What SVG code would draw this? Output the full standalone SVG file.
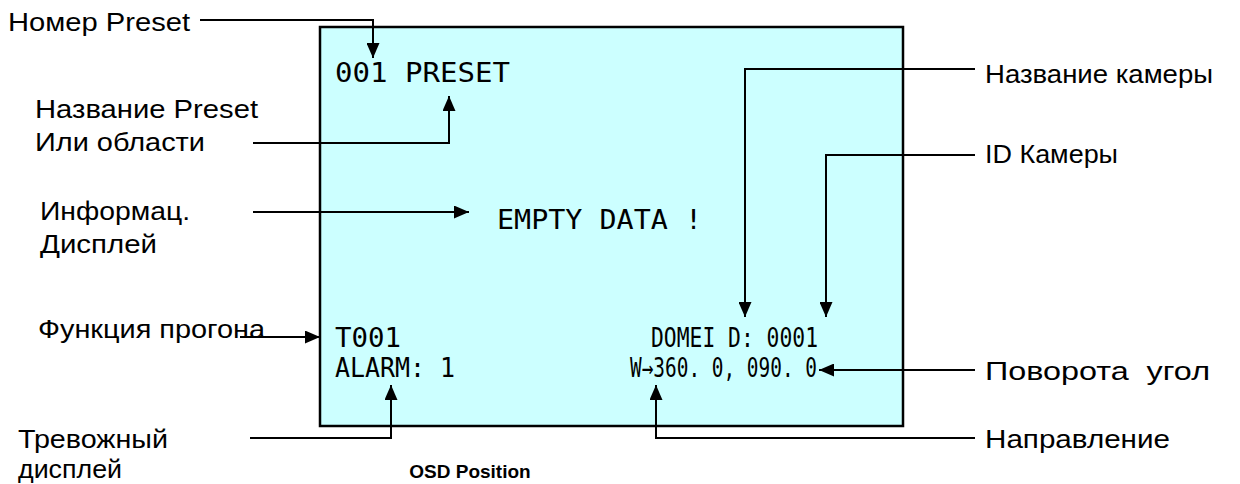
<svg xmlns="http://www.w3.org/2000/svg" width="1240" height="484" viewBox="0 0 1240 484">
<defs>
<marker id="ah" viewBox="0 0 10 10" refX="10" refY="5" markerWidth="15" markerHeight="13" markerUnits="userSpaceOnUse" orient="auto" preserveAspectRatio="none">
<path d="M0,0 L10,5 L0,10 z" fill="#000"/>
</marker>
<style>
.lbl{font-family:"Liberation Sans",Arial,sans-serif;font-size:25px;fill:#000}
.osd{font-family:"DejaVu Sans Mono","Liberation Mono",monospace;font-size:27px;fill:#000}
.ttl{font-family:"Liberation Sans",Arial,sans-serif;font-size:19px;font-weight:bold;fill:#000}
.cn{fill:none;stroke:#000;stroke-width:2}
</style>
</defs>
<rect width="1240" height="484" fill="#fff"/>
<g id="screen">
<rect x="320" y="27" width="583" height="399" fill="#CCFFFF" stroke="#000" stroke-width="2.5"/>
<text class="osd" x="335" y="82" textLength="175" lengthAdjust="spacingAndGlyphs">001 PRESET</text>
<text class="osd" x="497" y="229" textLength="205" lengthAdjust="spacingAndGlyphs">EMPTY DATA !</text>
<text class="osd" x="335" y="347" textLength="66" lengthAdjust="spacingAndGlyphs">T001</text>
<text class="osd" x="335" y="377" textLength="120" lengthAdjust="spacingAndGlyphs">ALARM: 1</text>
<text class="osd" x="651" y="347" textLength="167" lengthAdjust="spacingAndGlyphs">DOMEI D: 0001</text>
<text class="osd" x="630" y="377" textLength="187" lengthAdjust="spacingAndGlyphs">W→360. 0, 090. 0</text>
</g>
<g id="label-preset-no"><text class="lbl" x="8" y="31" textLength="182" lengthAdjust="spacingAndGlyphs">Номер Preset</text></g>
<g id="label-preset-name"><text class="lbl" x="35" y="118" textLength="223" lengthAdjust="spacingAndGlyphs">Название Preset</text><text class="lbl" x="35" y="151" textLength="170" lengthAdjust="spacingAndGlyphs">Или области</text></g>
<g id="label-info"><text class="lbl" x="40" y="220" textLength="150" lengthAdjust="spacingAndGlyphs">Информац.</text><text class="lbl" x="40" y="253" textLength="117" lengthAdjust="spacingAndGlyphs">Дисплей</text></g>
<g id="label-run"><text class="lbl" x="38" y="338" textLength="227" lengthAdjust="spacingAndGlyphs">Функция прогона</text></g>
<g id="label-alarm"><text class="lbl" x="18" y="448" textLength="150" lengthAdjust="spacingAndGlyphs">Тревожный</text><text class="lbl" x="18" y="478" textLength="104" lengthAdjust="spacingAndGlyphs">дисплей</text></g>
<g id="label-cam-name"><text class="lbl" x="985" y="83" textLength="228" lengthAdjust="spacingAndGlyphs">Название камеры</text></g>
<g id="label-cam-id"><text class="lbl" x="985" y="163" textLength="133" lengthAdjust="spacingAndGlyphs">ID Камеры</text></g>
<g id="label-angle"><text class="lbl" x="985" y="380" textLength="225" lengthAdjust="spacingAndGlyphs" style="white-space:pre">Поворота  угол</text></g>
<g id="label-dir"><text class="lbl" x="985" y="448" textLength="185" lengthAdjust="spacingAndGlyphs">Направление</text></g>
<g id="title"><text class="ttl" x="470" y="478" text-anchor="middle">OSD Position</text></g>
<g id="connectors">
<polyline class="cn" points="200,20 373,20 373,58" marker-end="url(#ah)"/>
<polyline class="cn" points="253,143 449,143 449,96" marker-end="url(#ah)"/>
<polyline class="cn" points="253,212 469,212" marker-end="url(#ah)"/>
<polyline class="cn" points="240,337 320,337" marker-end="url(#ah)"/>
<polyline class="cn" points="250,438 391,438 391,385" marker-end="url(#ah)"/>
<polyline class="cn" points="975,69 745,69 745,317" marker-end="url(#ah)"/>
<polyline class="cn" points="975,155 826,155 826,317" marker-end="url(#ah)"/>
<polyline class="cn" points="975,370 819,370" marker-end="url(#ah)"/>
<polyline class="cn" points="975,438 656,438 656,385" marker-end="url(#ah)"/>
</g>
</svg>
